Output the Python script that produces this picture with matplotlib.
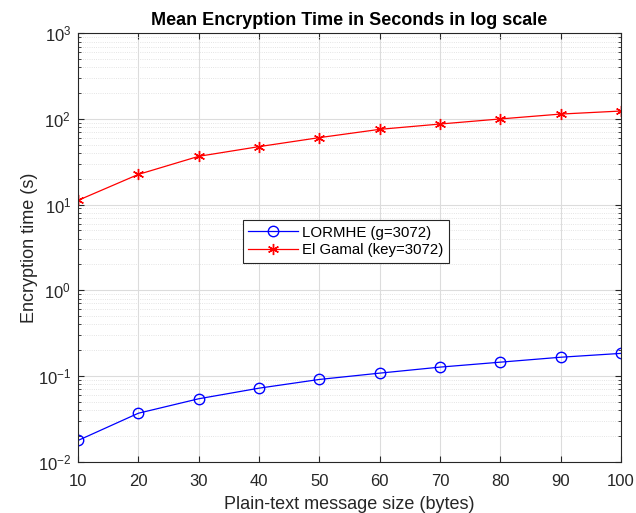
import matplotlib
matplotlib.use("Agg")
import matplotlib.pyplot as plt
from matplotlib.ticker import LogLocator, NullFormatter

plt.rcParams['font.family'] = ['Liberation Sans', 'DejaVu Sans']
plt.rcParams['mathtext.fontset'] = 'custom'
plt.rcParams['mathtext.rm'] = 'Liberation Sans'
plt.rcParams['mathtext.it'] = 'Liberation Sans'

sizes = [10, 20, 30, 40, 50, 60, 70, 80, 90, 100]
lormhe = [0.0176, 0.0366, 0.054, 0.0718, 0.0908, 0.1076, 0.1265, 0.1445, 0.165, 0.183]
elgamal = [11.2, 22.5, 36.6, 47.5, 60.5, 75.6, 87.2, 100, 114, 123.7]
ytick_vals = [1e-2, 1e-1, 1e0, 1e1, 1e2, 1e3]
ytick_labels = [r'$10^{-2}$', r'$10^{-1}$', r'$10^{0}$', r'$10^{1}$', r'$10^{2}$', r'$10^{3}$']

fig = plt.figure(figsize=(6.36, 5.13), dpi=100)
ax = fig.add_axes([78/636, 1-461.5/513, (621-78)/636, (461.5-33.3)/513])

ax.plot(sizes, lormhe, color='#0000ff', marker='o', markersize=7.5, markerfacecolor='none',
        markeredgecolor='#0000ff', linewidth=0.9, label='LORMHE (g=3072)')
ax.plot(sizes, elgamal, color='#ff0000', marker=(6, 2, 0), markersize=8, markerfacecolor='none',
        markeredgecolor='#ff0000', linewidth=0.9, label='El Gamal (key=3072)')

ax.set_yscale('log')
ax.set_xlim(10, 100)
ax.set_ylim(1e-2, 1e3)
ax.set_xticks(sizes)
ax.set_yticks(ytick_vals)
ax.set_yticklabels(ytick_labels)
ax.yaxis.set_minor_locator(LogLocator(base=10, subs=range(2, 10), numticks=20))
ax.yaxis.set_minor_formatter(NullFormatter())

ax.grid(True, which='major', color='#dcdcdc', linewidth=0.8, linestyle='-')
ax.grid(True, which='minor', axis='y', color='#dcdcdc', linewidth=0.6, linestyle=':')
ax.set_axisbelow(True)

ax.tick_params(which='both', direction='in', top=True, right=True, labelsize=12, colors='#262626')
ax.tick_params(which='major', length=4)
ax.tick_params(which='minor', length=2.5)
ax.tick_params(axis='x', pad=9)
ax.tick_params(axis='y', pad=5)
for s in ax.spines.values():
    s.set_color('#262626')
    s.set_linewidth(0.8)

ax.set_xlabel('Plain-text message size (bytes)', fontsize=13, color='#262626', labelpad=5)
ax.set_ylabel('Encryption time (s)', fontsize=13, color='#262626', labelpad=0)
ax.set_title('Mean Encryption Time in Seconds in log scale', fontsize=13, fontweight='bold', pad=6)

leg = ax.legend(loc='center', bbox_to_anchor=(346/636, 1-241.5/513), bbox_transform=fig.transFigure,
                fontsize=10.8, fancybox=False, framealpha=1, edgecolor='#262626',
                handlelength=3.3, borderpad=0.35, labelspacing=0.25, handletextpad=0.3)
leg.get_frame().set_linewidth(0.8)

fig.savefig('out.png', dpi=100)
